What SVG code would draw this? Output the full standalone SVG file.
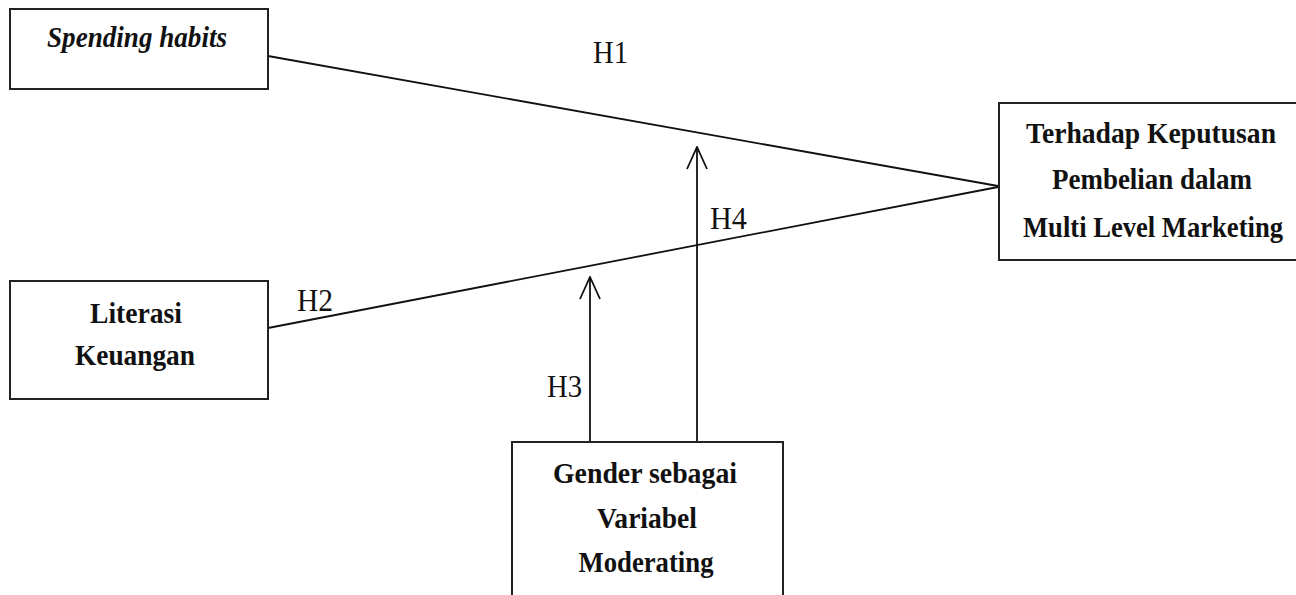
<svg xmlns="http://www.w3.org/2000/svg" width="1296" height="595" viewBox="0 0 1296 595">
<defs>
<style>
.box{fill:#fff;stroke:#222;stroke-width:2}
.t{font-family:"Liberation Serif","Times New Roman",serif;font-weight:bold;font-size:30px;fill:#111;text-anchor:middle}
.it{font-style:italic}
.h{font-family:"Liberation Serif","Times New Roman",serif;font-size:31px;fill:#111}
.ln{stroke:#111;stroke-width:1.8;fill:none}
</style>
<marker id="open" viewBox="0 0 24 24" refX="23" refY="12" markerWidth="24" markerHeight="24" markerUnits="userSpaceOnUse" orient="auto">
<path d="M1 2 L23 12 L1 22" fill="none" stroke="#111" stroke-width="1.8"/>
</marker>
</defs>
<rect width="1296" height="595" fill="#fff"/>
<g id="connectors">
<line class="ln" x1="268" y1="56" x2="998" y2="186"/>
<line class="ln" x1="268" y1="328" x2="998" y2="187"/>
<path class="ln" d="M590 442 L590 277" marker-end="url(#open)"/>
<path class="ln" d="M697 442 L697 147" marker-end="url(#open)"/>
<text class="h" x="593" y="63" textLength="35" lengthAdjust="spacingAndGlyphs">H1</text>
<text class="h" x="297" y="311" textLength="36" lengthAdjust="spacingAndGlyphs">H2</text>
<text class="h" x="547" y="397" textLength="35" lengthAdjust="spacingAndGlyphs">H3</text>
<text class="h" x="710" y="229" textLength="37" lengthAdjust="spacingAndGlyphs">H4</text>
</g>
<g id="spending">
<rect class="box" x="10" y="9" width="258" height="80"/>
<text class="t it" x="137" y="47" textLength="180" lengthAdjust="spacingAndGlyphs">Spending habits</text>
</g>
<g id="literasi">
<rect class="box" x="10" y="281" width="258" height="118"/>
<text class="t" x="136" y="323" textLength="92" lengthAdjust="spacingAndGlyphs">Literasi</text>
<text class="t" x="135" y="365" textLength="120" lengthAdjust="spacingAndGlyphs">Keuangan</text>
</g>
<g id="keputusan">
<rect class="box" x="999" y="103" width="310" height="157"/>
<text class="t" x="1151" y="143" textLength="250" lengthAdjust="spacingAndGlyphs">Terhadap Keputusan</text>
<text class="t" x="1152" y="189" textLength="200" lengthAdjust="spacingAndGlyphs">Pembelian dalam</text>
<text class="t" x="1153" y="237" textLength="260" lengthAdjust="spacingAndGlyphs">Multi Level Marketing</text>
</g>
<g id="gender">
<rect class="box" x="512" y="442" width="271" height="170"/>
<text class="t" x="645" y="483" textLength="184" lengthAdjust="spacingAndGlyphs">Gender sebagai</text>
<text class="t" x="647" y="528" textLength="100" lengthAdjust="spacingAndGlyphs">Variabel</text>
<text class="t" x="646" y="572" textLength="135" lengthAdjust="spacingAndGlyphs">Moderating</text>
</g>
</svg>
